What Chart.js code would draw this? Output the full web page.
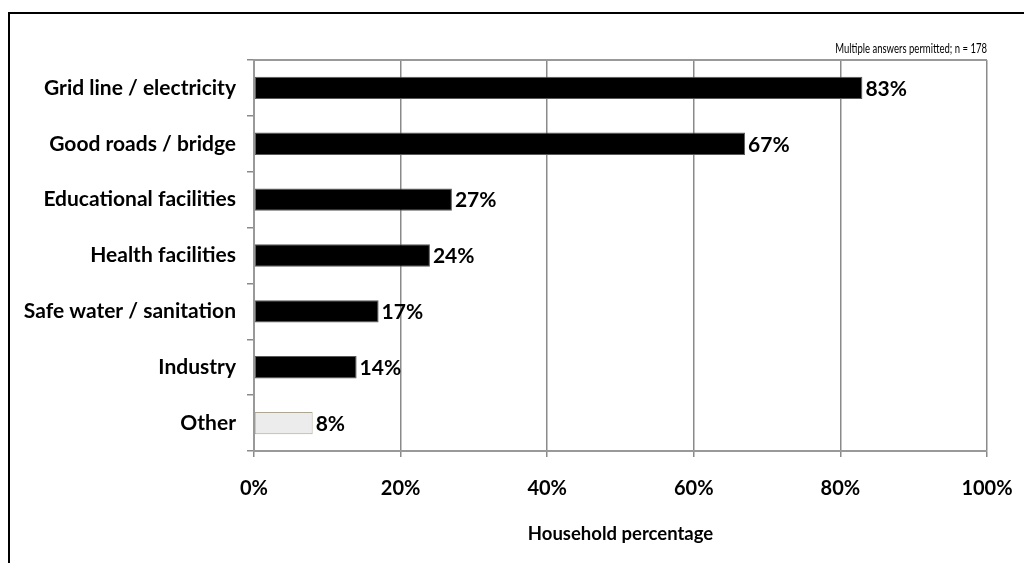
<!DOCTYPE html>
<html>
<head>
<meta charset="utf-8">
<title>Household percentage</title>
<script src="https://cdn.jsdelivr.net/npm/chart.js@4"></script>
<style>
  html, body { margin: 0; padding: 0; background: #fff; }
  #frame {
    position: absolute; left: 8px; top: 12px; width: 1100px; height: 700px;
    border-top: 2px solid #000; border-left: 2px solid #000;
  }
  #wrap { position: absolute; left: 0; top: 0; width: 1024px; height: 563px; }
</style>
</head>
<body>
<div id="frame"></div>
<div id="wrap"><canvas id="grafico" width="1024" height="563"></canvas></div>
<script>
// categorias e percentuais de domicílios
const categorias = [
    'Grid line / electricity',
    'Good roads / bridge',
    'Educational facilities',
    'Health facilities',
    'Safe water / sanitation',
    'Industry',
    'Other'
];
const percentuais = [83, 67, 27, 24, 17, 14, 8];
const ticksX = [0, 20, 40, 60, 80, 100];
const nota = 'Multiple answers permitted; n = 178';
const tituloX = 'Household percentage';

const fonte = 'Lato, "Open Sans", sans-serif';

const cores = percentuais.map((v, i) => i === categorias.length - 1 ? '#ececec' : '#000000');
const bordas = percentuais.map((v, i) => i === categorias.length - 1 ? '#aca692' : '#5a5a5a');

// linha superior da área, nota no canto e rótulos de valor no fim das barras
const rotulosBarras = {
    id: 'rotulosBarras',
    beforeDatasetsDraw(chart) {
        const {ctx, chartArea} = chart;
        ctx.save();
        ctx.strokeStyle = '#999';
        ctx.lineWidth = 2;
        ctx.beginPath();
        ctx.moveTo(chartArea.left, chartArea.top);
        ctx.lineTo(chartArea.right, chartArea.top);
        ctx.stroke();

        // nota em fonte estreita, alinhada à direita da área
        ctx.translate(chartArea.right, chartArea.top - 12);
        ctx.scale(0.68, 1);
        ctx.font = '14px ' + fonte;
        ctx.fillStyle = '#000';
        ctx.textAlign = 'right';
        ctx.textBaseline = 'middle';
        ctx.fillText(nota, 0, 0);
        ctx.restore();
    },
    afterDatasetsDraw(chart) {
        const ctx = chart.ctx;
        const meta = chart.getDatasetMeta(0);
        ctx.save();
        ctx.font = 'bold 21px ' + fonte;
        ctx.fillStyle = '#000';
        ctx.textBaseline = 'middle';
        ctx.textAlign = 'left';
        meta.data.forEach((barra, i) => {
            ctx.fillText(percentuais[i] + '%', barra.x + 3, barra.y + 1);
        });
        ctx.restore();
    }
};

new Chart(document.getElementById('grafico'), {
    type: 'bar',
    data: {
        labels: categorias,
        datasets: [{
            data: percentuais,
            backgroundColor: cores,
            borderColor: bordas,
            borderWidth: 1,
            borderSkipped: false,
            barPercentage: 0.4,
            categoryPercentage: 1
        }]
    },
    plugins: [rotulosBarras],
    options: {
        indexAxis: 'y',
        responsive: false,
        animation: false,
        layout: { padding: { top: 60, right: 37, left: 0, bottom: 0 } },
        plugins: {
            legend: { display: false },
            tooltip: { enabled: false }
        },
        scales: {
            x: {
                min: 0,
                max: 100,
                afterBuildTicks(scale) {
                    scale.ticks = ticksX.map(v => ({ value: v }));
                },
                afterFit(scale) {
                    scale.height = 112;
                    scale.paddingLeft = 0;
                    scale.paddingRight = 0;
                },
                grid: {
                    color: '#8a8a8a',
                    lineWidth: 1.5,
                    tickLength: 6,
                    tickColor: '#8a8a8a'
                },
                border: { color: '#999', width: 2 },
                ticks: {
                    color: '#000',
                    padding: 20,
                    font: { family: fonte, size: 20, weight: 'bold' },
                    callback: v => v + '%'
                },
                title: {
                    display: true,
                    text: tituloX,
                    color: '#000',
                    font: { family: fonte, size: 18.5, weight: 'bold' },
                    padding: { top: 0, bottom: 18 }
                }
            },
            y: {
                afterFit(scale) { scale.width = 254; },
                grid: {
                    offset: true,
                    drawOnChartArea: false,
                    tickLength: 7,
                    tickColor: '#8a8a8a',
                    lineWidth: 1.5
                },
                border: { color: '#999', width: 2 },
                ticks: {
                    color: '#000',
                    padding: 11,
                    font: { family: fonte, size: 21, weight: 'bold' }
                }
            }
        }
    }
});
</script>
</body>
</html>
